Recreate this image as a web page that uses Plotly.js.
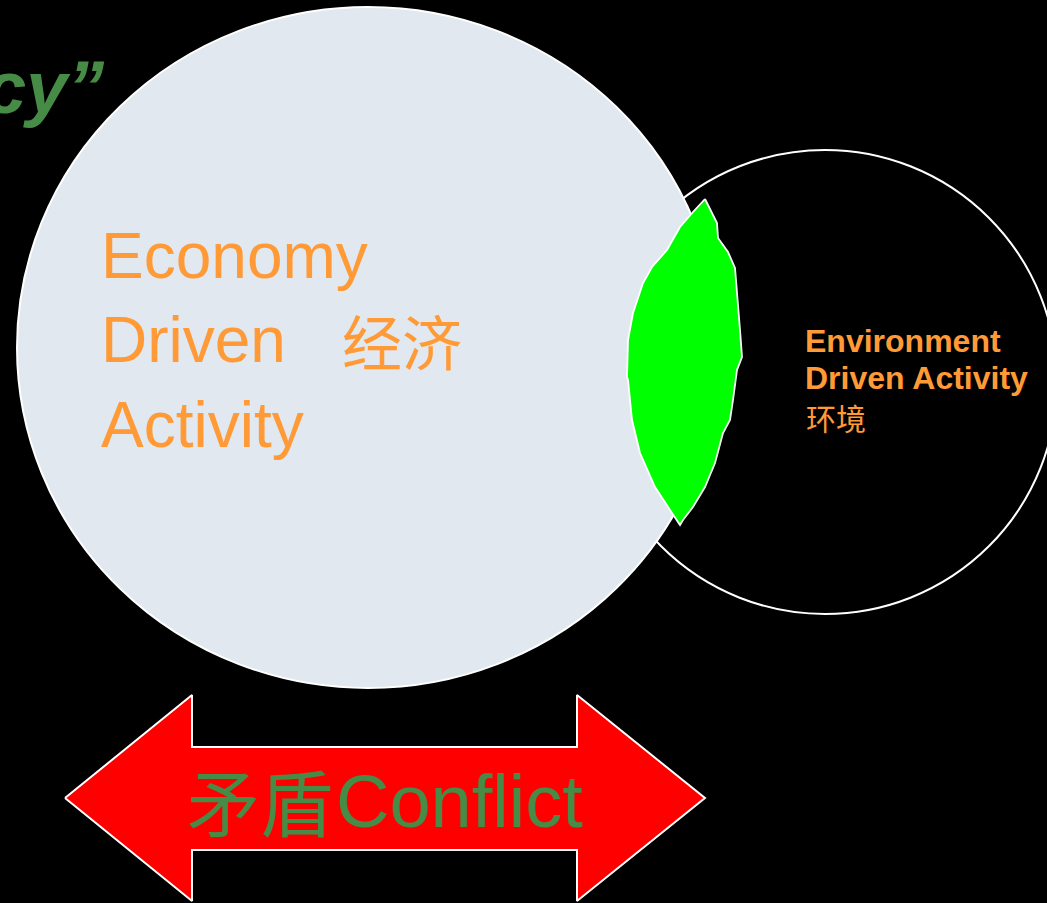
<!DOCTYPE html>
<html>
<head>
<meta charset="utf-8">
<script src="https://cdn.plot.ly/plotly-3.0.1.min.js"></script>
<style>html,body{margin:0;padding:0;background:#000;}#chart{width:1047px;height:903px;}</style>
</head>
<body>
<div id="chart"></div>
<script>
// Ellipses: [left, top, right, bottom] in picture units
const economyCircle = [17, 7, 719, 688];
const environmentCircle = [593, 150, 1057, 614];

// Overlap "leaf" outline
const leafX = [705,717,718,728,735,737,740,742,737,733,730,723,715,705,693,683,680,672,655,640,632,628,627,628,633,643,652,667,680,693,705];
const leafY = [199,223,238,252,268,290,330,357,370,400,420,433,463,487,507,520,525,513,487,453,420,380,377,340,313,283,267,250,227,212,199];

// Double-headed conflict arrow outline
const arrowX = [65,192,192,577,577,705,577,577,192,192,65];
const arrowY = [798,695,747,747,695,798,901,850,850,901,798];

// Labels
const economyLines = ["Economy", "Driven", "Activity"];
const economyCN = "经济";
const environmentLines = ["Environment", "Driven Activity"];
const environmentCN = "环境";
const conflictCN = "矛盾";
const conflictEN = "Conflict";
const titleFragment = "cy\u201D";

const ORANGE = "#ff9a36";
const GREEN = "#468c46";

const traces = [
  {x: leafX, y: leafY, mode: "lines", fill: "toself", fillcolor: "#00ff00",
   line: {color: "#ffffff", width: 1.8}, hoverinfo: "skip", showlegend: false},
  {x: arrowX, y: arrowY, mode: "lines", fill: "toself", fillcolor: "#ff0000",
   line: {color: "#ffffff", width: 2}, hoverinfo: "skip", showlegend: false}
];

function circleShape(c, fill, lw) {
  return {type: "circle", xref: "x", yref: "y", layer: "below",
    x0: c[0], x1: c[2], y0: c[1], y1: c[3],
    fillcolor: fill, line: {color: "#ffffff", width: lw}};
}

const annotations = [];
const econY = [256, 340, 425];
economyLines.forEach((t, i) => annotations.push({
  text: t, x: 99, y: econY[i], xref: "x", yref: "y", xanchor: "left", yanchor: "middle",
  showarrow: false, font: {family: "Liberation Sans, Arial, sans-serif", size: 64, color: ORANGE}
}));
annotations.push({text: economyCN, x: 402, y: 339, xref: "x", yref: "y", xanchor: "center", yanchor: "middle",
  showarrow: false, font: {family: "Noto Sans CJK SC", size: 60, color: ORANGE}});

const envY = [341, 378];
environmentLines.forEach((t, i) => annotations.push({
  text: "<b>" + t + "</b>", x: 803, y: envY[i], xref: "x", yref: "y", xanchor: "left", yanchor: "middle",
  showarrow: false, font: {family: "Liberation Sans, Arial, sans-serif", size: 32, color: ORANGE}
}));
annotations.push({text: environmentCN, x: 804, y: 417, xref: "x", yref: "y", xanchor: "left", yanchor: "middle",
  showarrow: false, font: {family: "Noto Sans CJK SC", size: 30, color: ORANGE}});

annotations.push({text: conflictCN, x: 260, y: 799, xref: "x", yref: "y", xanchor: "center", yanchor: "middle",
  showarrow: false, font: {family: "Noto Sans CJK SC", size: 73, color: GREEN}});
annotations.push({text: conflictEN, x: 334, y: 801, xref: "x", yref: "y", xanchor: "left", yanchor: "middle",
  showarrow: false, font: {family: "Liberation Sans, Arial, sans-serif", size: 74, color: GREEN}});

annotations.push({text: "<b><i>" + titleFragment + "</i></b>", x: 106, y: 87, xref: "x", yref: "y",
  xanchor: "right", yanchor: "middle", showarrow: false,
  font: {family: "Liberation Sans, Arial, sans-serif", size: 74, color: GREEN}});

const layout = {
  width: 1047, height: 903,
  margin: {l: 0, r: 0, t: 0, b: 0, pad: 0},
  paper_bgcolor: "#000000", plot_bgcolor: "#000000",
  xaxis: {range: [0, 1047], visible: false, fixedrange: true},
  yaxis: {range: [903, 0], visible: false, fixedrange: true},
  shapes: [circleShape(environmentCircle, "#000000", 2), circleShape(economyCircle, "#e1e8ef", 2)],
  annotations: annotations,
  showlegend: false
};

Plotly.newPlot("chart", traces, layout, {displayModeBar: false, staticPlot: true});
</script>
</body>
</html>
